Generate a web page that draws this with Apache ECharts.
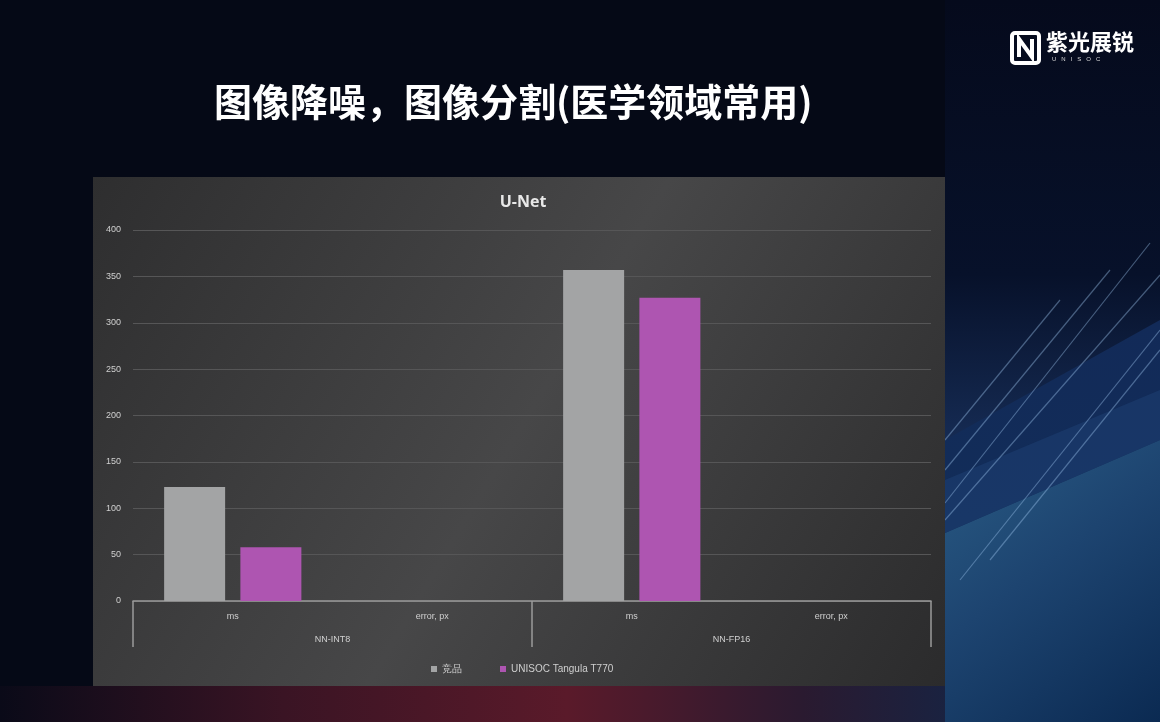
<!DOCTYPE html>
<html>
<head>
<meta charset="utf-8">
<script src="https://cdn.jsdelivr.net/npm/echarts@6/dist/echarts.min.js"></script>
<style>
html,body{margin:0;padding:0;background:#050916;}
#chart{width:1160px;height:722px;}
</style>
</head>
<body>
<div id="chart"></div>
<script>
// ---- data ----
const slideTitle = '图像降噪，图像分割(医学领域常用)';
const chartTitle = 'U-Net';
const categories = ['ms', 'error, px', 'ms', 'error, px'];
const groups = ['NN-INT8', 'NN-FP16'];
const seriesNames = ['竞品', 'UNISOC Tangula T770'];
const competitorValues = [123, 0, 357, 0];
const unisocValues = [58, 0, 327, 0];
const yTicks = [0, 50, 100, 150, 200, 250, 300, 350, 400];

const chart = echarts.init(document.getElementById('chart'));

const labelFont = 'Liberation Sans, Arial, sans-serif';
const cjk = '"Noto Sans CJK SC", "Noto Sans", sans-serif';

const decorations = [
  // right blue region
  { type: 'rect', z: -20, shape: { x: 945, y: 0, width: 215, height: 722 },
    style: { fill: new echarts.graphic.LinearGradient(0, 0, 0, 1, [
      { offset: 0, color: '#050a1c' }, { offset: 0.38, color: '#07112a' },
      { offset: 0.7, color: '#1b3563' }, { offset: 1, color: '#0f2a52' }]) } },
  { type: 'polygon', z: -19, shape: { points: [[945, 440], [1160, 320], [1160, 722], [945, 722]] },
    style: { fill: new echarts.graphic.LinearGradient(0, 0, 0, 1, [
      { offset: 0, color: '#122a58' }, { offset: 1, color: '#12305a' }]) } },
  { type: 'polygon', z: -18, shape: { points: [[945, 533], [1160, 440], [1160, 722], [945, 722]] },
    style: { fill: new echarts.graphic.LinearGradient(0, 0, 1, 1, [
      { offset: 0, color: '#2a5c85' }, { offset: 0.45, color: '#1d4470' }, { offset: 1, color: '#0b2a52' }]) } },
  { type: 'polygon', z: -18, shape: { points: [[945, 480], [1160, 390], [1160, 440], [945, 533]] },
    style: { fill: '#1a3a6a', opacity: 0.8 } },
  // bottom red glow
  { type: 'rect', z: -20, shape: { x: 0, y: 686, width: 945, height: 36 },
    style: { fill: new echarts.graphic.LinearGradient(0, 0, 1, 0, [
      { offset: 0, color: '#0a0a18' }, { offset: 0.3, color: '#3a1424' },
      { offset: 0.6, color: '#5a1a2a' }, { offset: 0.85, color: '#2a1a30' }, { offset: 1, color: '#1a2240' }]) } },
  // chart panel
  { type: 'rect', z: -10, shape: { x: 93, y: 177, width: 852, height: 509 },
    style: { fill: new echarts.graphic.LinearGradient(0, 0, 1, 1, [
      { offset: 0, color: '#2e2e2f' }, { offset: 0.5, color: '#474748' }, { offset: 1, color: '#2b2b2c' }]) } },
  // slide title
  { type: 'text', z: 10, left: 214, top: 83,
    style: { text: slideTitle, fill: '#ffffff', font: 'bold 38px ' + cjk } },
  // logo icon
  { type: 'rect', z: 10, shape: { x: 1012, y: 33, width: 27, height: 30, r: 3 }, style: { fill: 'none', stroke: '#ffffff', lineWidth: 4 } },
  { type: 'polyline', z: 11, shape: { points: [[1019, 57], [1019, 39], [1032, 57], [1032, 39]] }, style: { stroke: '#ffffff', lineWidth: 4, fill: 'none' } },
  { type: 'text', z: 10, left: 1046, top: 31,
    style: { text: '紫光展锐', fill: '#ffffff', font: 'bold 22px ' + cjk } },
  { type: 'text', z: 10, left: 1052, top: 56,
    style: { text: 'U   N   I   S   O   C', fill: '#d8d8d8', font: '6px ' + labelFont } }
];

// diagonal light lines on the right
const lineSpecs = [[945, 503, 1150, 243], [945, 470, 1110, 270], [945, 440, 1060, 300], [960, 580, 1160, 330], [945, 520, 1160, 275], [990, 560, 1160, 350]];
lineSpecs.forEach(function (p) {
  decorations.push({ type: 'line', z: -15, shape: { x1: p[0], y1: p[1], x2: p[2], y2: p[3] },
    style: { stroke: 'rgba(160,200,240,0.4)', lineWidth: 1.2 } });
});

const option = {
  backgroundColor: '#050916',
  animation: false,
  title: {
    text: chartTitle, left: 518, top: 189, textAlign: 'center',
    textStyle: { color: '#e8e8e8', fontSize: 16, fontWeight: 'bold', fontFamily: 'Open Sans, sans-serif' }
  },
  legend: {
    data: seriesNames, left: 426, top: 659, itemWidth: 6, itemHeight: 6, itemGap: 38,
    icon: 'rect', textStyle: { color: '#cfcfcf', fontSize: 10, fontFamily: labelFont }
  },
  grid: { left: 133, right: 229, top: 230, bottom: 121, containLabel: false },
  xAxis: [
    {
      type: 'category', data: categories, position: 'bottom',
      axisLine: { show: true, lineStyle: { color: '#9a9a9a', width: 1.5 } },
      axisTick: { show: false },
      axisLabel: { color: '#d0d0d0', fontSize: 9, fontFamily: labelFont, margin: 11 }
    },
    {
      type: 'category', data: groups, position: 'bottom',
      axisLine: { show: false },
      axisTick: { show: true, length: 46, lineStyle: { color: '#9a9a9a', width: 1.5 } },
      axisLabel: { color: '#d0d0d0', fontSize: 9, fontFamily: labelFont, margin: 34 }
    }
  ],
  yAxis: {
    type: 'value', min: 0, max: 400, interval: 50,
    axisLine: { show: false }, axisTick: { show: false },
    axisLabel: { color: '#d0d0d0', fontSize: 9, fontFamily: labelFont, margin: 12,
      formatter: function (v) { return yTicks.indexOf(v) >= 0 ? String(v) : ''; } },
    splitLine: { lineStyle: { color: '#565657', width: 1 } }
  },
  series: [
    { name: seriesNames[0], type: 'bar', xAxisIndex: 0, data: competitorValues, barWidth: 61, barGap: '25%',
      itemStyle: { color: '#a3a4a5' } },
    { name: seriesNames[1], type: 'bar', xAxisIndex: 0, data: unisocValues, barWidth: 61,
      itemStyle: { color: '#ae55b1' } }
  ],
  graphic: { elements: decorations }
};
chart.setOption(option);
</script>
</body>
</html>
